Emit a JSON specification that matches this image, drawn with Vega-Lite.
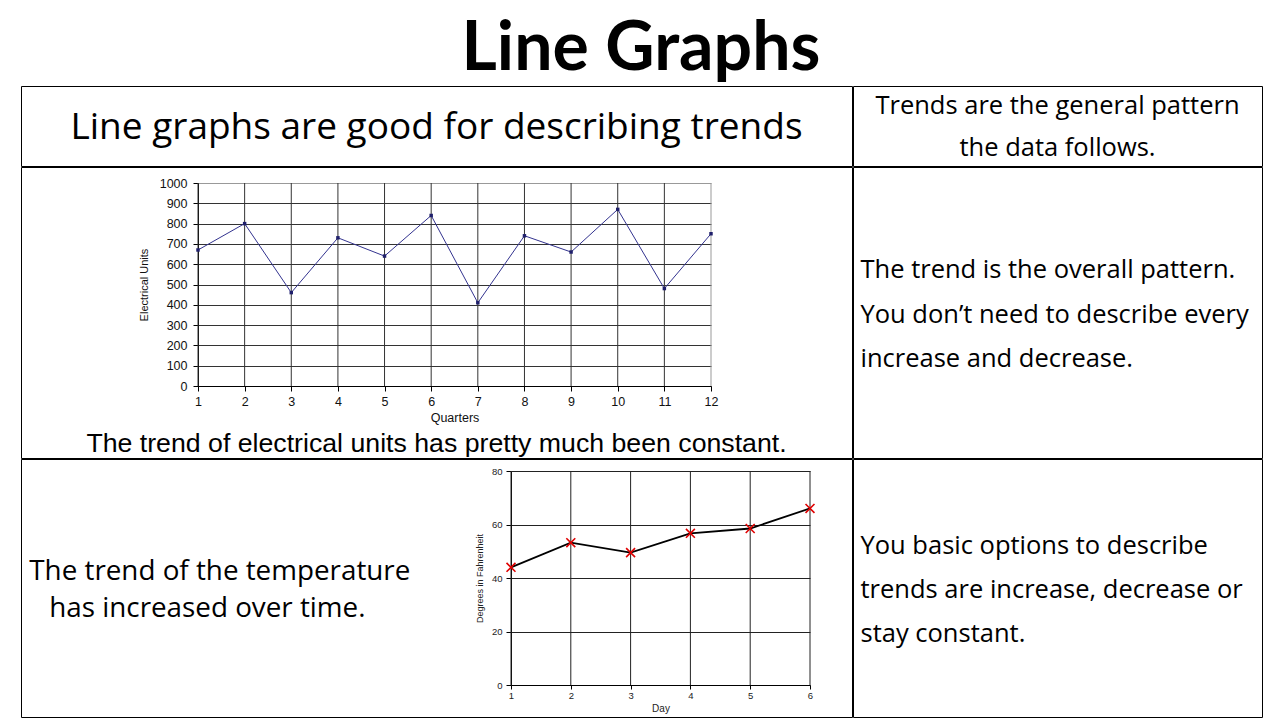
{
  "$schema": "https://vega.github.io/schema/vega-lite/v6.json",
  "padding": {"left": 20, "top": 0, "right": 0, "bottom": 0},
  "background": "white",
  "spacing": -2,
  "config": {"view": {"stroke": null}},
  "vconcat": [
    {
      "width": 1241,
      "height": 86,
      "data": {"values": [{}]},
      "mark": {"type": "text", "text": "Line Graphs", "font": "Lato", "fontWeight": "bold", "fontSize": 68, "color": "#000", "baseline": "middle", "dx": -0.5, "dy": 7}
    },
    {
      "spacing": -2,
      "hconcat": [
        {
          "width": 831,
          "height": 80,
          "view": {"stroke": "#000", "strokeWidth": 1},
          "data": {"values": [{}]},
          "mark": {"type": "text", "text": "Line graphs are good for describing trends", "font": "Open Sans", "fontSize": 37, "color": "#000", "baseline": "middle", "dy": 2.3}
        },
        {
          "width": 409,
          "height": 80,
          "view": {"stroke": "#000", "strokeWidth": 1},
          "data": {"values": [{}]},
          "mark": {"type": "text", "text": ["Trends are the general pattern", "the data follows."], "font": "Open Sans", "fontSize": 25.5, "lineHeight": 42, "color": "#000", "baseline": "middle", "dy": -19.7}
        }
      ]
    },
    {
      "spacing": -2,
      "hconcat": [
        {
          "width": 831,
          "height": 291,
          "view": {"stroke": "#000", "strokeWidth": 1},
          "layer": [
            {
              "data": {
                "values": [
                  {"quarter": 1, "units": 670},
                  {"quarter": 2, "units": 800},
                  {"quarter": 3, "units": 460},
                  {"quarter": 4, "units": 730},
                  {"quarter": 5, "units": 640},
                  {"quarter": 6, "units": 840},
                  {"quarter": 7, "units": 410},
                  {"quarter": 8, "units": 740},
                  {"quarter": 9, "units": 660},
                  {"quarter": 10, "units": 870},
                  {"quarter": 11, "units": 480},
                  {"quarter": 12, "units": 750}
                ]
              },
              "encoding": {
                "x": {
                  "field": "quarter", "type": "quantitative", "title": "Quarters",
                  "scale": {"domain": [1, 12], "range": [177, 690], "nice": false, "zero": false},
                  "axis": {
                    "offset": -72, "grid": false,
                    "values": [1, 2, 3, 4, 5, 6, 7, 8, 9, 10, 11, 12], "format": "d", "labelFlush": false,
                    "labelFont": "Liberation Sans", "labelFontSize": 12.5, "labelColor": "#111", "labelPadding": 4,
                    "tickColor": "#000", "tickSize": 5, "domainColor": "#000",
                    "titleFont": "Liberation Sans", "titleFontSize": 12.5, "titleFontWeight": "normal", "titleColor": "#111", "titlePadding": 4
                  }
                },
                "y": {
                  "field": "units", "type": "quantitative", "title": "Electrical Units",
                  "scale": {"domain": [0, 1000], "range": [219, 16], "nice": false},
                  "axis": {
                    "offset": -177, "format": "d",
                    "values": [0, 100, 200, 300, 400, 500, 600, 700, 800, 900, 1000],
                    "labelFont": "Liberation Sans", "labelFontSize": 12.5, "labelColor": "#111", "labelPadding": 6,
                    "tickColor": "#000", "tickSize": 5, "domainColor": "#000",
                    "gridColor": {"condition": {"test": "datum.value === 1000", "value": "#999"}, "value": "#333"}, "gridWidth": 1,
                    "titleFont": "Liberation Sans", "titleFontSize": 11, "titleFontWeight": "normal", "titleColor": "#111", "titlePadding": 10
                  }
                }
              },
              "layer": [
                {
                  "mark": {"type": "rule", "strokeWidth": 1},
                  "encoding": {
                    "y": {"datum": 0},
                    "y2": {"datum": 1000},
                    "color": {"condition": {"test": "datum.quarter === 12", "value": "#999"}, "value": "#333"}
                  }
                },
                {
                  "mark": {"type": "line", "color": "#33338f", "strokeWidth": 1, "point": {"filled": true, "size": 12, "color": "#1f1f6b", "shape": "square"}}
                }
              ]
            },
            {
              "data": {"values": [{}]},
              "mark": {"type": "text", "text": "The trend of electrical units has pretty much been constant.", "font": "Liberation Sans", "fontSize": 26.7, "color": "#000", "baseline": "middle", "dy": 131.5}
            }
          ]
        },
        {
          "width": 409,
          "height": 291,
          "view": {"stroke": "#000", "strokeWidth": 1},
          "data": {"values": [{}]},
          "mark": {"type": "text", "text": ["The trend is the overall pattern.", "You don’t need to describe every", "increase and decrease."], "font": "Open Sans", "fontSize": 25.5, "lineHeight": 44.5, "color": "#000", "align": "left", "baseline": "middle", "dx": -197, "dy": -42.5}
        }
      ]
    },
    {
      "spacing": -2,
      "hconcat": [
        {
          "width": 831,
          "height": 258,
          "view": {"stroke": "#000", "strokeWidth": 1},
          "layer": [
            {
              "data": {
                "values": [
                  {"day": 1, "temp": 44},
                  {"day": 2, "temp": 53.2},
                  {"day": 3, "temp": 49.5},
                  {"day": 4, "temp": 56.7},
                  {"day": 5, "temp": 58.5},
                  {"day": 6, "temp": 66}
                ]
              },
              "encoding": {
                "x": {
                  "field": "day", "type": "quantitative", "title": "Day",
                  "scale": {"domain": [1, 6], "range": [490, 789], "nice": false, "zero": false},
                  "axis": {
                    "offset": -32, "grid": false,
                    "values": [1, 2, 3, 4, 5, 6], "format": "d", "labelFlush": false,
                    "labelFont": "Liberation Sans", "labelFontSize": 9.5, "labelColor": "#222", "labelPadding": 1,
                    "tickColor": "#000", "tickSize": 4, "domainColor": "#000",
                    "titleFont": "Liberation Sans", "titleFontSize": 10, "titleFontWeight": "normal", "titleColor": "#222", "titlePadding": 4
                  }
                },
                "y": {
                  "field": "temp", "type": "quantitative", "title": "Degrees in Fahrenheit",
                  "scale": {"domain": [0, 80], "range": [226, 12], "nice": false},
                  "axis": {
                    "offset": -490,
                    "values": [0, 20, 40, 60, 80],
                    "labelFont": "Liberation Sans", "labelFontSize": 9.5, "labelColor": "#222", "labelPadding": 4,
                    "tickColor": "#000", "tickSize": 5, "domainColor": "#000",
                    "gridColor": "#222", "gridWidth": 1,
                    "titleFont": "Liberation Sans", "titleFontSize": 9, "titleFontWeight": "normal", "titleColor": "#222", "titlePadding": 7
                  }
                }
              },
              "layer": [
                {
                  "mark": {"type": "rule", "strokeWidth": 1, "color": "#222"},
                  "encoding": {"y": {"datum": 0}, "y2": {"datum": 80}}
                },
                {"mark": {"type": "line", "color": "#000", "strokeWidth": 1.8}},
                {"mark": {"type": "point", "shape": "M-1,-1L1,1M-1,1L1,-1", "filled": false, "size": 80, "stroke": "#e00000", "strokeWidth": 1.6, "opacity": 1}}
              ]
            },
            {
              "data": {"values": [{}]},
              "mark": {"type": "text", "text": "The trend of the temperature", "font": "Open Sans", "fontSize": 27.8, "color": "#000", "align": "left", "baseline": "middle", "dx": -407.2, "dy": -16.3}
            },
            {
              "data": {"values": [{}]},
              "mark": {"type": "text", "text": "has increased over time.", "font": "Open Sans", "fontSize": 27.8, "color": "#000", "align": "left", "baseline": "middle", "dx": -387.2, "dy": 21.3}
            }
          ]
        },
        {
          "width": 409,
          "height": 258,
          "view": {"stroke": "#000", "strokeWidth": 1},
          "data": {"values": [{}]},
          "mark": {"type": "text", "text": ["You basic options to describe", "trends are increase, decrease or", "stay constant."], "font": "Open Sans", "fontSize": 25.5, "lineHeight": 44, "color": "#000", "align": "left", "baseline": "middle", "dx": -197, "dy": -42}
        }
      ]
    }
  ]
}
